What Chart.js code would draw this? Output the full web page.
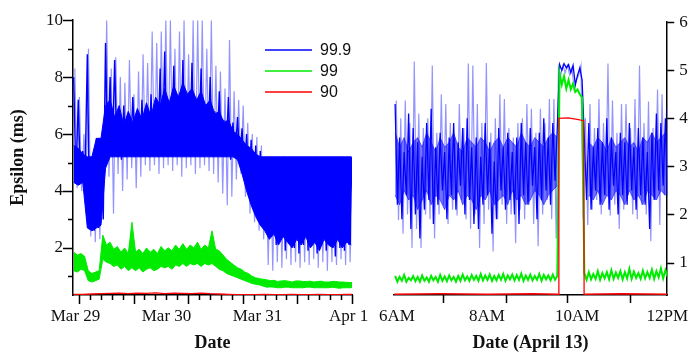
<!DOCTYPE html>
<html lang="en">
<head>
  <meta charset="UTF-8">
  <title>Epsilon percentiles</title>
  <script src="https://cdn.jsdelivr.net/npm/chart.js"></script>
  <style>
    body { margin: 0; background: #fff; }
    .wrap { position: relative; width: 699px; height: 358px; }
    .wrap canvas { position: absolute; left: 0; top: 0; }
  </style>
</head>
<body>
  <div class="wrap">
    <canvas id="leftChart" width="699" height="358"></canvas>
    <canvas id="rightChart" width="699" height="358"></canvas>
  </div>

  <script>
    const seriesNames = ['99.9', '99', '90'];

    // ---- left panel: x = days since Mar 29 00:00 ----
    const leftDayLabels = ['Mar 29', 'Mar 30', 'Mar 31', 'Apr 1'];
    const leftYTicks = [2, 4, 6, 8, 10];

    // 99.9 percentile: the dense part of the trace (upper / lower edge)
    const leftCoreStart = -0.02, leftCoreStep = 0.05;
    const leftBlueCoreHi = [
      5.6, 5.5, 5.3, 5.2, 5.2, 5.85, 5.85, 7.0, 7.2, 6.6,
      7.0, 6.3, 6.8, 6.4, 6.9, 6.5, 7.1, 6.6, 7.3, 7.0,
      7.6, 7.1, 7.7, 7.3, 7.8, 7.4, 7.6, 7.2, 7.5, 7.0,
      7.2, 6.7, 6.8, 6.4, 6.5, 6.1, 6.0, 5.8, 5.6, 5.5,
      5.3, 5.2, 5.2, 5.2, 5.2, 5.2, 5.2, 5.2, 5.2, 5.2,
      5.2, 5.2, 5.2, 5.2, 5.2, 5.2, 5.2, 5.2, 5.2, 5.2,
      5.2, 5.2
    ];
    const leftBlueCoreLo = [
      4.3, 4.2, 4.3, 2.7, 2.6, 2.7, 2.8, 4.8, 5.2, 5.2,
      5.2, 5.2, 5.2, 5.2, 5.2, 5.2, 5.2, 5.2, 5.2, 5.2,
      5.2, 5.2, 5.2, 5.2, 5.2, 5.2, 5.2, 5.2, 5.2, 5.2,
      5.2, 5.2, 5.2, 5.2, 5.2, 5.2, 5.1, 4.6, 4.0, 3.5,
      3.1, 2.8, 2.6, 2.3, 2.5, 2.1, 2.4, 2.2, 2.0, 2.3,
      2.1, 2.4, 2.0, 2.2, 1.9, 2.3, 2.1, 2.0, 2.3, 2.0,
      2.2, 2.1
    ];
    // 99.9 percentile: dark excursions around the dense part
    const leftBlueStart = -0.02, leftBlueStep = 0.025;
    const leftBlue = [
      8.0, 4.4, 7.2, 4.3, 5.4, 4.5, 8.8, 2.8, 5.2, 2.6,
      5.85, 2.7, 5.85, 3.0, 9.2, 5.1, 8.0, 5.2, 8.6, 5.2,
      6.6, 5.1, 7.0, 5.2, 6.2, 5.3, 7.3, 5.2, 6.3, 5.2,
      7.2, 5.3, 6.5, 5.2, 7.4, 5.3, 6.6, 5.2, 8.3, 5.3,
      8.9, 5.2, 6.8, 5.4, 8.4, 5.3, 7.0, 5.4, 8.6, 5.3,
      7.2, 5.4, 8.5, 5.3, 7.0, 5.4, 8.3, 5.3, 6.9, 5.3,
      8.0, 5.2, 6.8, 5.3, 7.5, 5.2, 6.5, 5.2, 7.3, 5.1,
      6.4, 5.2, 6.6, 5.1, 6.2, 4.6, 6.0, 4.0, 5.8, 3.5,
      5.6, 3.2, 5.4, 2.9, 5.2, 2.6, 5.2, 2.4, 5.2, 2.1,
      5.2, 2.3, 5.2, 1.9, 5.2, 2.2, 5.2, 2.0, 5.2, 1.8,
      5.2, 2.1, 5.2, 1.9, 5.2, 2.3, 5.2, 1.8, 5.2, 2.1,
      5.2, 1.9, 5.2, 2.2, 5.2, 1.7, 5.2, 2.0, 5.2, 1.9,
      5.2, 2.1, 5.2, 1.9, 5.1
    ];
    // 99.9 percentile: sparse spikes
    const leftSpikeStart = -0.0075, leftSpikeStep = 0.025;
    const leftBlueSpikes = [
      8.3, 4.1, 7.3, 4.0, 6.0, 4.2, 9.0, 2.4, 5.2, 2.2,
      5.85, 2.3, 5.85, 4.6, 10, 4.5, 8.3, 3.2, 8.7, 4.6,
      8.0, 4.0, 7.8, 4.4, 8.6, 4.8, 7.4, 4.1, 8.2, 4.5,
      8.8, 4.9, 8.5, 4.7, 9.6, 4.9, 9.2, 4.6, 9.6, 4.8,
      10, 4.9, 10, 4.7, 9.0, 4.9, 9.6, 4.5, 10, 4.8,
      8.8, 4.9, 10, 4.6, 10, 4.8, 10, 4.9, 9.0, 4.7,
      10, 4.6, 8.4, 4.3, 8.2, 3.9, 7.6, 3.5, 9.3, 3.8,
      7.5, 4.4, 7.2, 4.6, 7.0, 3.8, 6.4, 3.2, 6.0, 2.9,
      5.9, 2.6, 5.6, 2.3, 5.2, 1.4, 5.2, 1.2, 5.2, 1.5,
      5.2, 1.3, 5.2, 1.6, 5.2, 1.4, 5.2, 1.5, 5.2, 1.3,
      5.2, 1.5, 5.2, 1.4, 5.2, 1.6, 5.2, 1.3, 5.2, 1.5,
      5.2, 1.2, 5.2, 1.5, 5.2, 1.4, 5.2, 1.6, 5.2, 1.4,
      5.2, 1.5, 5.2, 1.6
    ];
    // 99 percentile, upper and lower edge of the noisy band
    const leftGreenStart = -0.02, leftGreenStep = 0.04;
    const leftGreenHi = [
      1.85, 1.75, 1.8, 1.7, 1.2, 1.1, 1.15, 1.2, 2.45, 2.1,
      2.2, 1.95, 2.05, 1.85, 2.0, 1.8, 2.9, 1.85, 1.95, 1.8,
      2.0, 1.85, 1.95, 1.8, 2.05, 1.9, 2.0, 1.9, 2.1, 1.95,
      2.15, 1.95, 2.1, 2.0, 2.2, 1.95, 2.1, 2.0, 2.6, 1.95,
      1.9, 1.75, 1.6, 1.5, 1.4, 1.3, 1.25, 1.15, 1.1, 1.0,
      0.95, 0.92, 0.9, 0.88, 0.85, 0.86, 0.82, 0.84, 0.85, 0.83,
      0.8, 0.84, 0.84, 0.82, 0.82, 0.83, 0.8, 0.82, 0.83, 0.8,
      0.8, 0.82, 0.82, 0.8, 0.8, 0.79, 0.78, 0.8
    ];
    const leftGreenLo = [
      1.2, 1.15, 1.25, 1.2, 0.85, 0.8, 0.85, 0.9, 1.6, 1.5,
      1.45, 1.35, 1.4, 1.25, 1.35, 1.2, 1.3, 1.2, 1.3, 1.15,
      1.25, 1.3, 1.2, 1.25, 1.35, 1.3, 1.35, 1.25, 1.4, 1.35,
      1.45, 1.35, 1.45, 1.4, 1.45, 1.35, 1.45, 1.4, 1.45, 1.35,
      1.25, 1.2, 1.1, 1.05, 1.0, 0.95, 0.9, 0.85, 0.8, 0.75,
      0.72, 0.7, 0.66, 0.62, 0.63, 0.62, 0.6, 0.6, 0.62, 0.62,
      0.6, 0.6, 0.6, 0.6, 0.62, 0.62, 0.6, 0.6, 0.6, 0.6,
      0.6, 0.62, 0.6, 0.58, 0.6, 0.6, 0.6, 0.62
    ];
    const leftRedStart = -0.02, leftRedStep = 0.1;
    const leftRed = [
      0.37, 0.37, 0.38, 0.39, 0.4, 0.41, 0.39, 0.41, 0.4, 0.42,
      0.39, 0.41, 0.4, 0.39, 0.41, 0.39, 0.38, 0.37, 0.36, 0.36,
      0.36, 0.37, 0.36, 0.36, 0.37, 0.36, 0.36, 0.37, 0.36, 0.36,
      0.37, 0.36
    ];

    // ---- right panel: x = hour of April 13 ----
    const rightHourLabels = ['6AM', '8AM', '10AM', '12PM'];
    const rightHourTicks = [6, 8, 10, 12];
    const rightYTicks = [1, 2, 3, 4, 5, 6];

    // dense part of 99.9 (null while all percentiles are high)
    const rightCoreStart = 5.96, rightCoreStep = 0.1;
    const rightBlueCoreHi = [
      3.7, 3.4, 3.6, 3.3, 3.5, 3.6, 3.4, 3.7, 3.5, 3.3,
      3.6, 3.4, 3.5, 3.7, 3.4, 3.3, 3.6, 3.5, 3.4, 3.6,
      3.5, 3.3, 3.5, 3.6, 3.4, 3.6, 3.5, 3.4, 3.7, 3.5,
      3.4, 3.6, 3.5, 3.4, 3.6, 3.7, 3.6, null, null, null,
      null, null, null, 3.5, 3.4, 3.6, 3.5, 3.3, 3.6, 3.4,
      3.5, 3.6, 3.4, 3.5, 3.3, 3.6, 3.5, 3.7, 3.5, 3.6,
      3.7, 3.6
    ];
    const rightBlueCoreLo = [
      2.4, 2.2, 2.5, 2.3, 2.4, 2.1, 2.3, 2.5, 2.2, 2.4,
      2.3, 2.1, 2.4, 2.3, 2.5, 2.2, 2.4, 2.3, 2.1, 2.4,
      2.3, 2.5, 2.2, 2.3, 2.4, 2.2, 2.5, 2.3, 2.4, 2.2,
      2.3, 2.5, 2.4, 2.2, 2.4, 2.5, 2.6, null, null, null,
      null, null, null, 2.4, 2.3, 2.5, 2.2, 2.4, 2.3, 2.5,
      2.4, 2.2, 2.5, 2.3, 2.4, 2.2, 2.5, 2.4, 2.3, 2.5,
      2.4, 2.5
    ];
    const rightBlueStart = 5.96, rightBlueStep = 0.05;
    const rightBlue = [
      4.3, 2.2, 3.6, 1.9, 3.3, 2.4, 4.1, 1.7, 3.8, 2.0,
      3.5, 1.5, 3.2, 2.1, 3.9, 2.3, 4.2, 1.8, 3.4, 2.2,
      3.7, 2.5, 3.3, 1.9, 3.6, 2.4, 3.9, 2.1, 3.5, 2.6,
      3.8, 2.0, 4.0, 2.3, 3.4, 1.8, 3.6, 1.7, 3.2, 2.2,
      3.9, 2.4, 3.5, 1.6, 3.1, 1.9, 3.8, 2.5, 3.4, 2.1,
      3.7, 2.3, 3.3, 2.0, 3.6, 1.8, 3.9, 2.4, 3.5, 2.2,
      3.8, 2.6, 3.4, 1.9, 3.7, 2.3, 4.0, 2.5, 3.6, 2.2,
      3.9, 2.7, 3.8, 5.12, 5.0, 5.14, 5.05, 5.12, 4.95, 5.1,
      4.7, 4.9, 5.05, 4.8, 3.6, 2.3, 3.9, 2.1, 3.4, 2.5,
      3.8, 2.2, 3.5, 2.4, 4.0, 2.1, 3.6, 2.6, 3.3, 2.0,
      3.7, 2.4, 3.5, 2.2, 3.9, 2.5, 3.4, 2.1, 3.8, 2.4,
      3.6, 2.2, 3.3, 1.7, 3.7, 2.3, 4.1, 2.5, 3.9, 2.6,
      4.0, 2.4
    ];
    const rightSpikeStart = 5.985, rightSpikeStep = 0.05;
    const rightBlueSpikes = [
      4.37, 1.88, 4.0, 1.6, 4.37, 2.0, 3.9, 1.3, 5.18, 1.7,
      4.1, 1.3, 3.8, 2.0, 4.0, 1.9, 5.1, 1.5, 3.7, 2.0,
      4.5, 2.2, 4.3, 1.8, 3.9, 2.1, 3.6, 1.98, 4.3, 2.3,
      3.8, 1.9, 5.14, 1.7, 5.1, 2.0, 4.3, 1.3, 3.9, 1.8,
      5.15, 2.1, 3.7, 1.23, 4.0, 1.9, 4.5, 2.2, 4.4, 1.8,
      3.8, 2.0, 3.6, 1.4, 3.9, 2.1, 4.0, 1.9, 4.3, 2.2,
      4.2, 1.8, 3.7, 1.34, 4.2, 2.0, 3.9, 2.3, 4.4, 1.9,
      4.4, 1.5, 5.05, 4.9, 5.1, 4.95, 5.1, 4.9, 5.05, 4.6,
      4.8, 4.9, 5.1, 1.9, 4.0, 1.78, 4.3, 2.1, 3.8, 2.3,
      4.4, 2.0, 3.9, 2.4, 5.14, 1.98, 4.37, 2.2, 3.7, 1.7,
      4.3, 2.1, 4.3, 2.4, 3.8, 2.0, 4.4, 1.9, 5.1, 2.2,
      3.9, 2.0, 4.35, 1.44, 3.8, 2.3, 4.6, 1.78, 4.5, 2.4,
      4.2
    ];
    const rightGreenStart = 5.96, rightGreenStep = 0.05;
    const rightGreen = [
      0.72, 0.6, 0.7, 0.62, 0.74, 0.6, 0.68, 0.63, 0.72, 0.61,
      0.7, 0.6, 0.73, 0.62, 0.69, 0.6, 0.72, 0.63, 0.7, 0.6,
      0.74, 0.62, 0.71, 0.61, 0.73, 0.63, 0.7, 0.6, 0.72, 0.62,
      0.75, 0.63, 0.71, 0.62, 0.74, 0.64, 0.72, 0.62, 0.76, 0.63,
      0.73, 0.64, 0.75, 0.62, 0.72, 0.63, 0.74, 0.64, 0.76, 0.62,
      0.73, 0.65, 0.75, 0.63, 0.74, 0.64, 0.77, 0.62, 0.73, 0.64,
      0.75, 0.63, 0.72, 0.64, 0.76, 0.62, 0.74, 0.65, 0.73, 0.63,
      0.75, 0.64, 0.72, 4.94, 4.7, 4.88, 4.62, 4.8, 4.6, 4.72,
      4.55, 4.6, 4.5, 4.43, 0.78, 0.64, 0.8, 0.65, 0.76, 0.66,
      0.82, 0.64, 0.78, 0.67, 0.8, 0.65, 0.84, 0.66, 0.79, 0.68,
      0.82, 0.65, 0.8, 0.67, 0.87, 0.66, 0.81, 0.68, 0.78, 0.66,
      0.83, 0.67, 0.8, 0.68, 0.85, 0.66, 0.82, 0.69, 0.88, 0.67,
      0.84, 0.7
    ];
    const rightRedHours = [5.94, 7, 8, 9, 9.585, 9.595, 9.8, 10.0, 10.145, 10.155, 11, 12.02];
    const rightRed = [0.34, 0.35, 0.34, 0.35, 0.34, 4.0, 4.01, 3.98, 3.95, 0.34, 0.35, 0.34];

    // ---- helpers ----
    const BLUE = 'rgb(0,0,255)';
    const BLUE_LIGHT = 'rgba(0,0,255,0.42)';
    const BLUE_MID = 'rgba(0,0,255,0.55)';
    const GREEN = 'rgb(0,235,0)';
    const RED = 'rgb(255,0,0)';
    const legendColors = [BLUE, GREEN, RED];

    const tickFont = { family: 'Liberation Serif', size: 17 };
    const titleFont = { family: 'Liberation Serif', size: 18, weight: 'bold' };

    function grid(start, step, ys) {
      return ys.map((y, i) => ({ x: start + i * step, y: y }));
    }
    function paired(xs, ys) {
      return ys.map((y, i) => ({ x: xs[i], y: y }));
    }
    function line(data, color, width) {
      return { data: data, borderColor: color, borderWidth: width, pointRadius: 0, tension: 0, fill: false };
    }
    function bandTop(data, color) {
      const d = line(data, color, 1);
      d.fill = '+1';
      d.backgroundColor = color;
      return d;
    }

    // tick marks (major/minor lengths differ, so they are stroked here)
    const tickMarks = {
      id: 'tickMarks',
      afterDraw(chart, args, opts) {
        const ctx = chart.ctx;
        const xs = chart.scales.x, ys = chart.scales.y;
        ctx.save();
        ctx.strokeStyle = '#000';
        ctx.lineWidth = 1.5;
        ctx.beginPath();
        opts.x.forEach(([v, len]) => {
          const p = Math.round(xs.getPixelForValue(v)) + 0.5;
          ctx.moveTo(p, xs.top);
          ctx.lineTo(p, xs.top + len);
        });
        opts.y.forEach(([v, len]) => {
          const p = Math.round(ys.getPixelForValue(v)) + 0.5;
          if (ys.position === 'left') {
            ctx.moveTo(ys.right, p);
            ctx.lineTo(ys.right - len, p);
          } else {
            ctx.moveTo(ys.left, p);
            ctx.lineTo(ys.left + len, p);
          }
        });
        ctx.stroke();
        ctx.restore();
      }
    };

    const insideLegend = {
      id: 'insideLegend',
      afterDatasetsDraw(chart, args, opts) {
        if (!opts.show) return;
        const ctx = chart.ctx;
        ctx.save();
        ctx.font = '16px "Liberation Sans"';
        ctx.textBaseline = 'middle';
        ctx.fillStyle = '#111';
        seriesNames.forEach((name, k) => {
          const y = opts.y + k * opts.gap;
          ctx.strokeStyle = legendColors[k];
          ctx.lineWidth = 1.5;
          ctx.beginPath();
          ctx.moveTo(opts.x, y);
          ctx.lineTo(opts.x + opts.len, y);
          ctx.stroke();
          ctx.fillText(name, opts.x + opts.len + 8, y + 1);
        });
        ctx.restore();
      }
    };

    function xAxis(min, max, values, labels, title) {
      return {
        type: 'linear', min: min, max: max,
        afterBuildTicks: s => { s.ticks = values.map(v => ({ value: v })); },
        afterFit: s => { s.height = 63; },
        grid: { display: false, drawTicks: false },
        border: { display: true, color: '#000', width: 1.5 },
        ticks: {
          autoSkip: false, maxRotation: 0, padding: 11, color: '#111', font: tickFont,
          callback: (v, i) => labels[i]
        },
        title: { display: true, text: title, color: '#111', font: titleFont, padding: { top: 4, bottom: 4 } }
      };
    }

    function yAxis(pos, min, max, values, width, title) {
      return {
        type: 'linear', position: pos, min: min, max: max,
        afterBuildTicks: s => { s.ticks = values.map(v => ({ value: v })); },
        afterFit: s => { s.width = width; },
        grid: { display: false, drawTicks: false },
        border: { display: true, color: '#000', width: 1.5 },
        ticks: { padding: pos === 'left' ? 10 : 12, color: '#111', font: tickFont, callback: v => String(v) },
        title: { display: !!title, text: title || '', color: '#111', font: titleFont, padding: { top: 8, bottom: 4 } }
      };
    }

    // left minor/major tick marks
    const leftXMarks = [];
    for (let j = 0; j <= 25; j++) leftXMarks.push([0.038 + 0.12 * j, j % 5 === 0 ? 9 : 5]);
    const leftYMarks = [];
    for (let v = 1; v <= 10; v++) leftYMarks.push([v, v % 2 === 0 ? 10 : 5]);
    const rightXMarks = [7.03, 8.43, 9.78, 11.18].map(v => [v, 8]);
    const rightYMarks = rightYTicks.map(v => [v, 7]);

    new Chart(document.getElementById('leftChart'), {
      type: 'line',
      data: {
        datasets: [
          line(grid(leftRedStart, leftRedStep, leftRed), RED, 1.3),
          bandTop(grid(leftGreenStart, leftGreenStep, leftGreenHi), GREEN),
          line(grid(leftGreenStart, leftGreenStep, leftGreenLo), GREEN, 1),
          line(grid(leftBlueStart, leftBlueStep, leftBlue), BLUE, 1.4),
          bandTop(grid(leftCoreStart, leftCoreStep, leftBlueCoreHi), BLUE),
          line(grid(leftCoreStart, leftCoreStep, leftBlueCoreLo), BLUE, 1),
          line(grid(leftSpikeStart, leftSpikeStep, leftBlueSpikes), BLUE_LIGHT, 1.2)
        ]
      },
      options: {
        responsive: false,
        animation: false,
        layout: { padding: { left: 0, top: 15, right: 347, bottom: 0 } },
        scales: {
          x: xAxis(-0.0275, 3.038, [0, 1, 2, 3], leftDayLabels, 'Date'),
          y: yAxis('left', 0.345, 10, leftYTicks, 73, 'Epsilon (ms)')
        },
        plugins: {
          legend: { display: false },
          tooltip: { enabled: false },
          filler: { propagate: false },
          tickMarks: { x: leftXMarks, y: leftYMarks },
          insideLegend: { show: true, x: 265, y: 50, gap: 21, len: 47 }
        }
      },
      plugins: [tickMarks, insideLegend]
    });

    new Chart(document.getElementById('rightChart'), {
      type: 'line',
      data: {
        datasets: [
          line(paired(rightRedHours, rightRed), RED, 1.3),
          line(grid(rightGreenStart, rightGreenStep, rightGreen), GREEN, 2),
          line(grid(rightBlueStart, rightBlueStep, rightBlue), BLUE, 1.3),
          bandTop(grid(rightCoreStart, rightCoreStep, rightBlueCoreHi), BLUE_MID),
          line(grid(rightCoreStart, rightCoreStep, rightBlueCoreLo), BLUE_MID, 1),
          line(grid(rightSpikeStart, rightSpikeStep, rightBlueSpikes), BLUE_LIGHT, 1.2)
        ]
      },
      options: {
        responsive: false,
        animation: false,
        layout: { padding: { left: 394, top: 15, right: 0, bottom: 0 } },
        scales: {
          x: xAxis(5.935, 12.0, rightHourTicks, rightHourLabels, 'Date (April 13)'),
          y: yAxis('right', 0.324, 6, rightYTicks, 23, '')
        },
        plugins: {
          legend: { display: false },
          tooltip: { enabled: false },
          filler: { propagate: false },
          tickMarks: { x: rightXMarks, y: rightYMarks },
          insideLegend: { show: false }
        }
      },
      plugins: [tickMarks, insideLegend]
    });
  </script>
</body>
</html>
